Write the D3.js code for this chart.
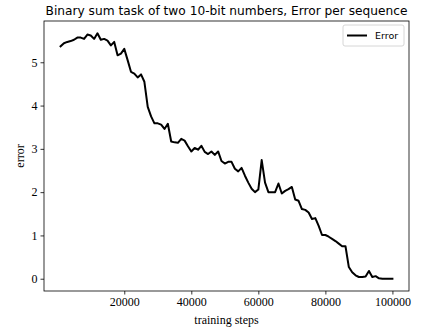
<!DOCTYPE html>
<html>
<head>
<meta charset="utf-8">
<script src="https://cdn.jsdelivr.net/npm/d3@7"></script>
<style>
  body { margin: 0; background: #fff; }
  svg { display: block; }
</style>
</head>
<body>
<div id="chart"></div>
<script>
// training steps, every 1000
var steps = d3.range(1, 101).map(function(k) { return k * 1000; });

// error per sequence
var errors = [
  5.37, 5.44, 5.47, 5.49, 5.52, 5.57, 5.57, 5.54, 5.64, 5.62,
  5.54, 5.67, 5.52, 5.54, 5.50, 5.39, 5.47, 5.16, 5.20, 5.31,
  5.05, 4.78, 4.74, 4.65, 4.72, 4.55, 3.97, 3.75, 3.59, 3.59,
  3.56, 3.46, 3.58, 3.17, 3.15, 3.14, 3.23, 3.19, 3.06, 2.94,
  3.02, 2.98, 3.07, 2.93, 2.88, 2.94, 2.86, 2.94, 2.72, 2.66,
  2.70, 2.70, 2.54, 2.48, 2.56, 2.38, 2.22, 2.08, 2.00, 2.06,
  2.74, 2.22, 2.00, 2.00, 2.00, 2.20, 1.97, 2.03, 2.07, 2.12,
  1.83, 1.80, 1.61, 1.59, 1.53, 1.38, 1.40, 1.22, 1.01, 1.01,
  0.97, 0.92, 0.87, 0.81, 0.75, 0.75, 0.27, 0.15, 0.08, 0.04,
  0.04, 0.05, 0.18, 0.04, 0.06, 0.01, 0.00, 0.00, 0.00, 0.00
];

var xTicks = [20000, 40000, 60000, 80000, 100000];
var yTicks = [0, 1, 2, 3, 4, 5];

var W = 427, H = 329;
var margin = {top: 21, right: 18, bottom: 38, left: 44},
    width = W - margin.left - margin.right,
    height = H - margin.top - margin.bottom;

var svg = d3.select("#chart").append("svg")
  .attr("width", W)
  .attr("height", H);

var g = svg.append("g")
  .attr("transform", "translate(" + margin.left + "," + margin.top + ")");

// matplotlib style 5% padding
var xMin = d3.min(steps), xMax = d3.max(steps);
var xPad = (xMax - xMin) * 0.05;
var x = d3.scaleLinear()
  .domain([xMin - xPad, xMax + xPad])
  .range([0, width]);

var yMin = d3.min(errors), yMax = d3.max(errors);
var yPad = (yMax - yMin) * 0.05;
var y = d3.scaleLinear()
  .domain([yMin - yPad, yMax + yPad])
  .range([height, 0]);

var serif = "'Liberation Serif', 'DejaVu Serif', serif";
var sans = "'DejaVu Sans', sans-serif";

// x axis
var xAxis = g.append("g")
  .attr("transform", "translate(0," + height + ")")
  .call(d3.axisBottom(x).tickValues(xTicks).tickFormat(d3.format("d")).tickSize(3.5).tickPadding(3));
xAxis.select(".domain").remove();
xAxis.selectAll("text").style("font-family", serif).style("font-size", "12px").attr("fill", "#000");
xAxis.selectAll("line").attr("stroke", "#000").attr("stroke-width", 0.8);

// y axis
var yAxis = g.append("g")
  .call(d3.axisLeft(y).tickValues(yTicks).tickFormat(d3.format("d")).tickSize(3.5).tickPadding(3));
yAxis.select(".domain").remove();
yAxis.selectAll("text").style("font-family", serif).style("font-size", "12px").attr("fill", "#000");
yAxis.selectAll("line").attr("stroke", "#000").attr("stroke-width", 0.8);

// the line
var line = d3.line()
  .x(function(d, i) { return x(steps[i]); })
  .y(function(d) { return y(d); });

g.append("path")
  .datum(errors)
  .attr("fill", "none")
  .attr("stroke", "#000")
  .attr("stroke-width", 2)
  .attr("stroke-linejoin", "round")
  .attr("stroke-linecap", "square")
  .attr("d", line);

// frame
g.append("rect")
  .attr("x", 0).attr("y", 0)
  .attr("width", width).attr("height", height)
  .attr("fill", "none")
  .attr("stroke", "#000")
  .attr("stroke-width", 0.8);

// title
svg.append("text")
  .attr("x", margin.left + width / 2)
  .attr("y", 15)
  .attr("text-anchor", "middle")
  .style("font-family", sans)
  .style("font-size", "12.2px")
  .text("Binary sum task of two 10-bit numbers, Error per sequence");

// axis labels
svg.append("text")
  .attr("x", margin.left + width / 2)
  .attr("y", 324)
  .attr("text-anchor", "middle")
  .style("font-family", serif)
  .style("font-size", "12px")
  .text("training steps");

svg.append("text")
  .attr("transform", "translate(24," + (margin.top + height / 2) + ") rotate(-90)")
  .attr("text-anchor", "middle")
  .style("font-family", serif)
  .style("font-size", "12px")
  .text("error");

// legend
var legend = g.append("g")
  .attr("transform", "translate(" + (width - 66) + ",4)");

legend.append("rect")
  .attr("width", 61).attr("height", 21)
  .attr("rx", 2).attr("ry", 2)
  .attr("fill", "#fff")
  .attr("fill-opacity", 0.8)
  .attr("stroke", "#ccc")
  .attr("stroke-width", 0.8);

legend.append("line")
  .attr("x1", 4).attr("x2", 24)
  .attr("y1", 10.5).attr("y2", 10.5)
  .attr("stroke", "#000")
  .attr("stroke-width", 2);

legend.append("text")
  .attr("x", 32)
  .attr("y", 14)
  .style("font-family", sans)
  .style("font-size", "9.5px")
  .text("Error");
</script>
</body>
</html>
